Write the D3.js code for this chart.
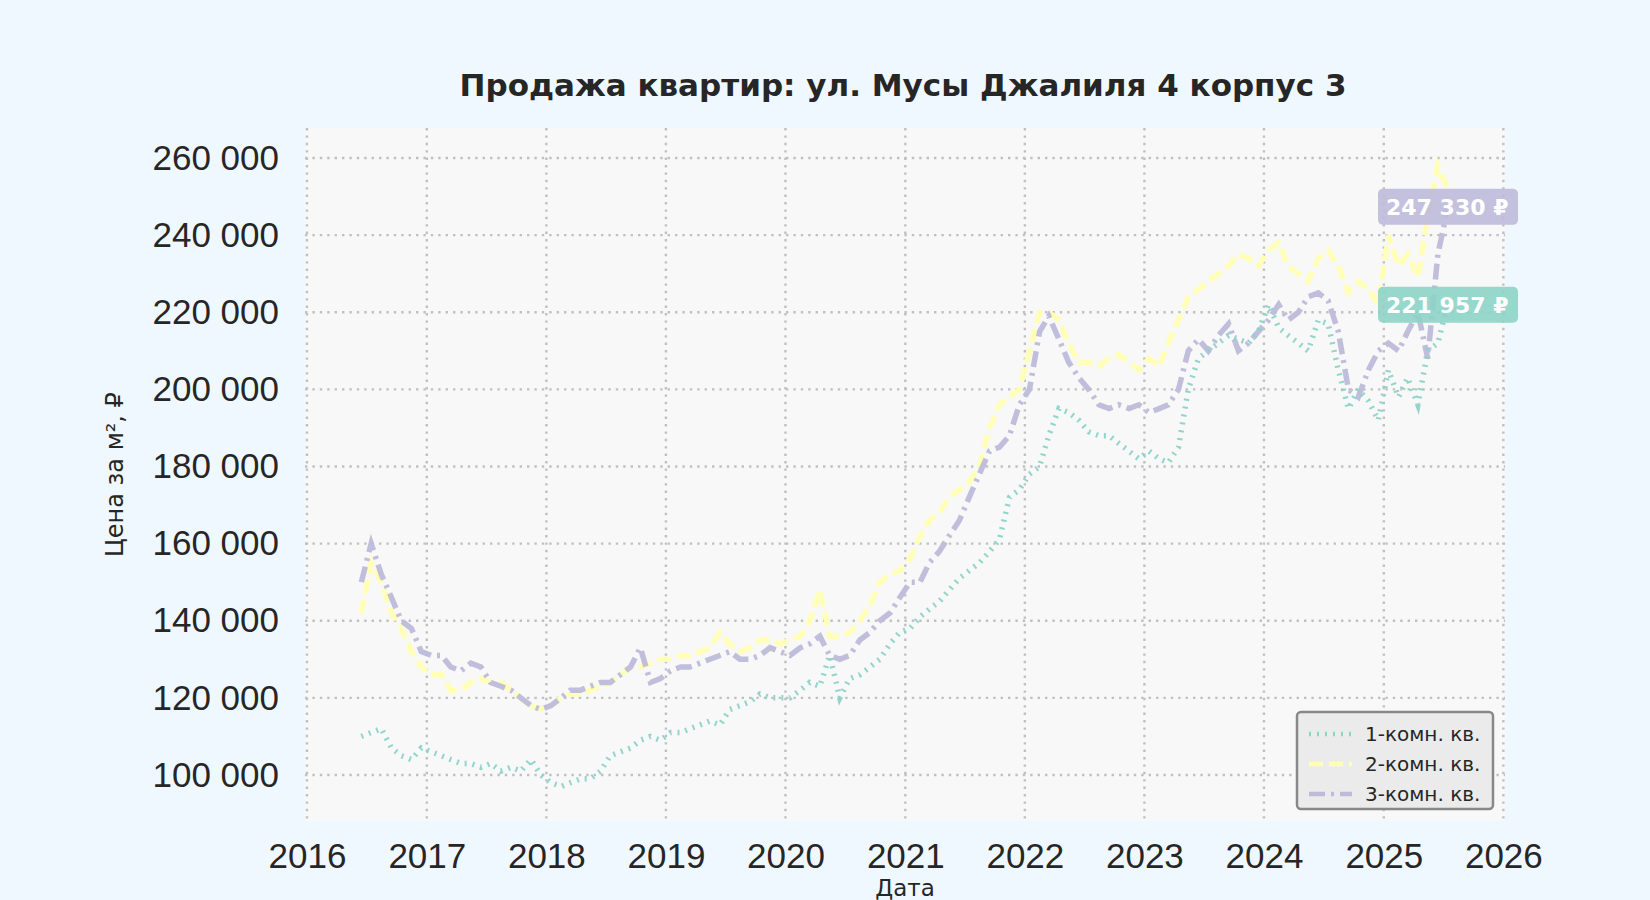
<!DOCTYPE html>
<html><head><meta charset="utf-8">
<script src="https://cdn.jsdelivr.net/npm/d3@7/dist/d3.min.js"></script>
<style>body{margin:0;background:#f0f8ff;}svg{display:block;font-family:"DejaVu Sans",sans-serif;}</style>
</head><body><svg id="c" width="1650" height="900"></svg>
<script>
const startMonth = [2016, 5]; // June 2016 (month index 5)
const series1 = [110,111,112,107,105,104,107,
106,105,104,103,103,102,103,101,102,101,104,100,
98,97,98,99,99,101,105,106,107,109,110,109,
111,111,112,113,114,113,117,118,119,121,120,120,
120,122,124,123,131,120,125,126,128,130,134,137,
138,141,143,145,148,151,153,155,158,161,172,174,
178,180,188,195,194,192,189,188,188,186,184,182,
184,182,181,185,200,208,210,212,214,213,212,215,
222,216,214,212,210,218,217,205,195,200,197,192,
205,198,203,196,210,212,222];
const series2 = [142,155,150,142,138,132,128,
126,126,122,122,124,125,124,124,122,120,118,117,
118,120,121,121,122,123,124,126,128,128,129,130,
130,131,131,132,133,137,134,132,133,135,135,134,
135,136,140,148,136,136,137,140,144,150,152,153,
156,162,166,168,172,174,176,180,190,196,198,200,
210,220,220,218,212,207,207,206,208,209,207,205,
208,206,212,218,224,226,228,230,232,235,234,232,
236,238,232,230,228,234,236,232,225,228,226,222,
240,232,235,229,245,258,252];
const series3 = [150,160,152,146,140,138,132,
131,131,128,127,129,128,124,123,122,120,118,117,
118,120,122,122,123,124,124,126,128,133,124,125,
127,128,128,129,130,131,132,130,130,131,133,132,
131,133,134,136,131,130,131,135,137,140,142,146,
150,150,155,158,162,166,172,178,184,185,188,196,
200,215,219,213,207,203,200,196,195,196,195,196,
194,195,196,200,210,213,210,214,217,210,212,215,
218,222,218,220,224,225,223,215,200,198,205,210,
212,210,215,220,208,235,247];
const seriesNames = ["1-комн. кв.","2-комн. кв.","3-комн. кв."];
const lastLabels = ["221 957 ₽", null, "247 330 ₽"];
const lastValues = [221957, null, 247330];
const yTicks = [100000,120000,140000,160000,180000,200000,220000,240000,260000];
const xTicks = [2016,2017,2018,2019,2020,2021,2022,2023,2024,2025,2026];

const colors = ["#8dd3c7","#ffffb3","#bebada"];
const dashes = ["2,6","14,6","16,6,3,6"];
const svg = d3.select("#c");
const L=305,R=1505,T=128,B=821;
const x = d3.scaleTime().domain([new Date(2015,11,26), new Date(2026,0,6)]).range([L,R]);
const y = d3.scaleLinear().domain([88070,267780]).range([B,T]);
svg.append("rect").attr("x",L).attr("y",T).attr("width",R-L).attr("height",B-T).attr("fill","#f8f8f8");
const fmt = v => d3.format(",")(v).replace(/,/g," ");
const gx = svg.append("g").attr("transform",`translate(0,${B})`)
 .call(d3.axisBottom(x).tickValues(xTicks.map(t=>new Date(t,0,1))).tickFormat(d3.timeFormat("%Y")).tickSize(0).tickPadding(22));
const gy = svg.append("g").attr("transform",`translate(${L},0)`)
 .call(d3.axisLeft(y).tickValues(yTicks).tickFormat(fmt).tickSize(0).tickPadding(26));
[gx,gy].forEach(g=>{g.select(".domain").remove();g.selectAll("text").attr("font-size",35).attr("fill","#262626");});
svg.append("g").selectAll("line").data(yTicks).join("line").attr("x1",L).attr("x2",R).attr("y1",d=>y(d)).attr("y2",d=>y(d))
 .attr("stroke","#c0c0c0").attr("stroke-width",2.4).attr("stroke-dasharray","2.4,5");
svg.append("g").selectAll("line").data(xTicks).join("line").attr("y1",T).attr("y2",B).attr("x1",d=>x(new Date(d,0,1))).attr("x2",d=>x(new Date(d,0,1)))
 .attr("stroke","#c0c0c0").attr("stroke-width",2.4).attr("stroke-dasharray","2.4,5");
const all=[series1,series2,series3];
const line=d3.line().x((d,i)=>x(new Date(startMonth[0],startMonth[1]+i,15))).y(d=>y(d*1000));
[1,2,0].forEach(k=>{
 svg.append("path").datum(all[k]).attr("d",line).attr("fill","none").attr("stroke",colors[k]).attr("stroke-width",5.5)
  .attr("stroke-dasharray",dashes[k]).attr("opacity",0.95);
});
[0,2].forEach(k=>{
 const cy=y(lastValues[k]); const bx=1378,bw=140,bh=36;
 svg.append("rect").attr("x",bx).attr("y",cy-bh/2).attr("width",bw).attr("height",bh).attr("rx",5).attr("fill",colors[k]).attr("opacity",0.9);
 svg.append("text").attr("x",bx+8).attr("y",cy+8).attr("font-size",22).attr("font-weight","bold").attr("fill","#fff").text(lastLabels[k]);
});
svg.append("text").attr("x",903).attr("y",96).attr("text-anchor","middle").attr("font-size",31).attr("font-weight","bold").attr("fill","#262626")
 .text("Продажа квартир: ул. Мусы Джалиля 4 корпус 3");
svg.append("text").attr("transform",`translate(123,${(T+B)/2}) rotate(-90)`).attr("text-anchor","middle").attr("font-size",24).attr("fill","#262626").text("Цена за м², ₽");
svg.append("text").attr("x",905).attr("y",896).attr("text-anchor","middle").attr("font-size",23).attr("fill","#262626").text("Дата");
const lg=svg.append("g").attr("transform","translate(1297,712)");
lg.append("rect").attr("width",196).attr("height",97).attr("rx",4).attr("fill","#ebebeb").attr("stroke","#888").attr("stroke-width",2.5);
seriesNames.forEach((n,i)=>{
 const yy=22+i*30;
 lg.append("line").attr("x1",12).attr("x2",55).attr("y1",yy).attr("y2",yy).attr("stroke",colors[i]).attr("stroke-width",4.5).attr("stroke-dasharray",dashes[i]);
 lg.append("text").attr("x",68).attr("y",yy+7).attr("font-size",20).attr("fill","#262626").text(n);
});
</script></body></html>
